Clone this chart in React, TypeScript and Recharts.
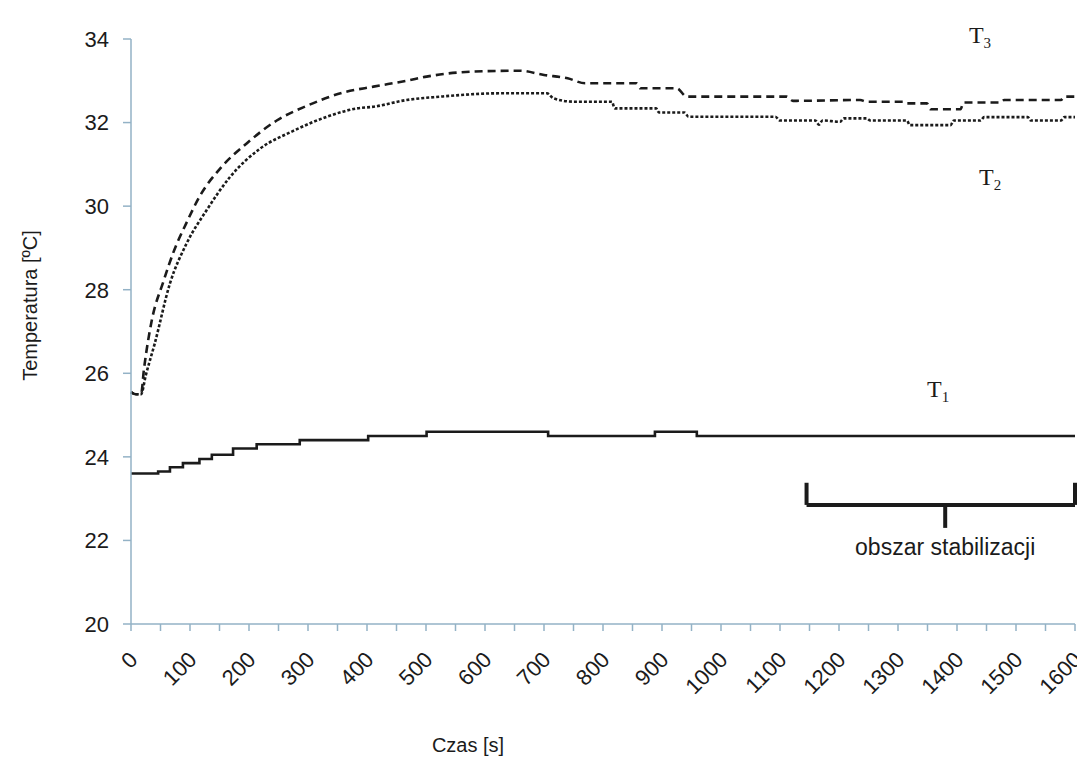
import React from "react";
import {
  LineChart,
  Line,
  XAxis,
  YAxis,
  ReferenceLine,
  ReferenceDot,
} from "recharts";

// T1 – solid, stepped sensor reading
const t1Time = [0, 46, 66, 88, 116, 137, 173, 213, 286, 402, 501, 707, 888, 959, 1600];
const t1Temp = [23.6, 23.65, 23.75, 23.85, 23.95, 24.05, 24.2, 24.3, 24.4, 24.5, 24.6, 24.5, 24.6, 24.5, 24.5];

// T2 – dotted (lower of the two upper curves)
const t2Time = [
  0, 8, 17, 25, 40, 66, 94, 128, 168, 219, 275, 332, 383, 411, 467, 524, 625, 705, 716, 750,
  815, 820, 890, 895, 938, 945, 1092, 1100, 1160, 1166, 1172, 1202, 1208, 1247, 1253, 1315,
  1320, 1389, 1395, 1440, 1446, 1520, 1525, 1576, 1582, 1600,
];
const t2Temp = [
  25.55, 25.5, 25.5, 25.95, 26.7, 28.15, 29.1, 29.9, 30.7, 31.38, 31.8, 32.14, 32.34, 32.38,
  32.54, 32.62, 32.7, 32.7, 32.58, 32.5, 32.5, 32.34, 32.34, 32.24, 32.24, 32.14, 32.14, 32.05,
  32.05, 31.95, 32.05, 32.02, 32.1, 32.1, 32.05, 32.05, 31.94, 31.94, 32.05, 32.05, 32.13,
  32.13, 32.05, 32.05, 32.13, 32.13,
];

// T3 – dashed (upper curve)
const t3Time = [
  0, 8, 17, 22, 35, 55, 72, 94, 117, 151, 196, 247, 298, 360, 411, 467, 501, 580, 659, 700,
  740, 770, 857, 863, 925, 942, 1111, 1122, 1236, 1247, 1309, 1315, 1349, 1355, 1406, 1411,
  1474, 1480, 1576, 1582, 1600,
];
const t3Temp = [
  25.55, 25.5, 25.5, 26.1, 27.25, 28.2, 28.9, 29.6, 30.25, 30.9, 31.5, 32.05, 32.4, 32.72,
  32.86, 33.0, 33.1, 33.22, 33.24, 33.14, 33.06, 32.94, 32.94, 32.82, 32.82, 32.62, 32.62,
  32.52, 32.54, 32.5, 32.5, 32.46, 32.46, 32.32, 32.32, 32.48, 32.48, 32.54, 32.54, 32.62,
  32.62,
];

const yTicks = [20, 22, 24, 26, 28, 30, 32, 34];
const xTicks = Array.from({ length: 33 }, (_, i) => i * 50);

const toRows = (time: number[], temp: number[]) =>
  time.map((t, i) => ({ time: t, temp: temp[i] }));

const t1Data = toRows(t1Time, t1Temp);
const t2Data = toRows(t2Time, t2Temp);
const t3Data = toRows(t3Time, t3Temp);

const AXIS = "#93b2c6";
const INK = "#1b1b1b";
const SANS = "'Liberation Sans', Arial, sans-serif";
const SERIF = "'Liberation Serif', 'Times New Roman', serif";

function XTick(props: any) {
  const { x, y, payload } = props;
  if (payload.value % 100 !== 0) return null;
  return (
    <g transform={`translate(${x + 8},${y + 28})`}>
      <text
        transform="rotate(-45)"
        textAnchor="end"
        fontSize={22}
        fontFamily={SANS}
        fill={INK}
      >
        {payload.value}
      </text>
    </g>
  );
}

function YTitle(props: any) {
  const vb = props.viewBox;
  return (
    <text
      transform={`translate(${vb.x + 37},${vb.y + vb.height / 2 - 26}) rotate(-90)`}
      textAnchor="middle"
      fontSize={20}
      fontFamily={SANS}
      fill={INK}
    >
      Temperatura [ºC]
    </text>
  );
}

function XTitle(props: any) {
  const vb = props.viewBox;
  return (
    <text
      x={vb.x + 337}
      y={vb.y + 128}
      textAnchor="middle"
      fontSize={20}
      fontFamily={SANS}
      fill={INK}
    >
      Czas [s]
    </text>
  );
}

function SeriesTag(props: any) {
  const vb = props.viewBox;
  return (
    <text x={vb.x} y={vb.y} textAnchor="middle" fontFamily={SERIF} fill={INK} fontSize={24}>
      T
      <tspan fontSize={15} dy={5}>
        {props.sub}
      </tspan>
    </text>
  );
}

function Note(props: any) {
  const vb = props.viewBox;
  return (
    <text x={vb.x} y={vb.y} textAnchor="middle" fontFamily={SANS} fill={INK} fontSize={23}>
      obszar stabilizacji
    </text>
  );
}

export default function App() {
  return (
    <div
      style={{
        position: "absolute",
        left: 0,
        top: 0,
        width: 1077,
        height: 760,
        background: "#fff",
        overflow: "hidden",
      }}
    >
      <LineChart width={1077} height={760} margin={{ top: 39, right: 2, left: 0, bottom: 0 }}>
        <XAxis
          type="number"
          dataKey="time"
          domain={[0, 1600]}
          ticks={xTicks}
          interval={0}
          height={136}
          stroke={AXIS}
          strokeWidth={1.5}
          tickSize={7}
          tickMargin={2}
          tick={<XTick />}
          label={<XTitle />}
        />
        <YAxis
          type="number"
          domain={[20, 34]}
          ticks={yTicks}
          interval={0}
          width={131}
          stroke={AXIS}
          strokeWidth={1.5}
          tickSize={8}
          tickMargin={14}
          tick={{ fontSize: 22, fill: INK, fontFamily: SANS }}
          label={<YTitle />}
        />

        <Line
          data={t3Data}
          dataKey="temp"
          type="monotone"
          stroke={INK}
          strokeWidth={2.6}
          strokeDasharray="8 5"
          dot={false}
          isAnimationActive={false}
        />
        <Line
          data={t2Data}
          dataKey="temp"
          type="monotone"
          stroke={INK}
          strokeWidth={2.6}
          strokeDasharray="3 2"
          dot={false}
          isAnimationActive={false}
        />
        <Line
          data={t1Data}
          dataKey="temp"
          type="stepAfter"
          stroke={INK}
          strokeWidth={2.6}
          dot={false}
          isAnimationActive={false}
        />

        {/* bracket marking the stabilisation region */}
        <ReferenceLine
          segment={[{ x: 1145, y: 23.38 }, { x: 1145, y: 22.85 }]}
          stroke={INK}
          strokeWidth={4}
        />
        <ReferenceLine
          segment={[{ x: 1145, y: 22.85 }, { x: 1600, y: 22.85 }]}
          stroke={INK}
          strokeWidth={4}
        />
        <ReferenceLine
          segment={[{ x: 1600, y: 22.85 }, { x: 1600, y: 23.38 }]}
          stroke={INK}
          strokeWidth={4}
        />
        <ReferenceLine
          segment={[{ x: 1380, y: 22.85 }, { x: 1380, y: 22.3 }]}
          stroke={INK}
          strokeWidth={4}
        />

        <ReferenceDot x={1380} y={21.65} r={0} fill="none" stroke="none" label={<Note />} />
        <ReferenceDot x={1439} y={33.9} r={0} fill="none" stroke="none" label={<SeriesTag sub="3" />} />
        <ReferenceDot x={1456} y={30.5} r={0} fill="none" stroke="none" label={<SeriesTag sub="2" />} />
        <ReferenceDot x={1368} y={25.43} r={0} fill="none" stroke="none" label={<SeriesTag sub="1" />} />
      </LineChart>
    </div>
  );
}
